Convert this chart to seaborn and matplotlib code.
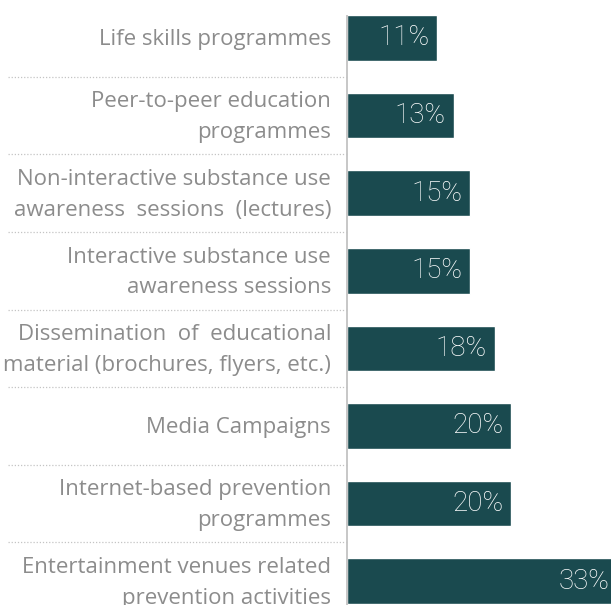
import matplotlib
matplotlib.use("Agg")
import matplotlib.pyplot as plt
import matplotlib.transforms as mtransforms
import pandas as pd
import seaborn as sns

categories = [
    "Life skills programmes",
    "Peer-to-peer education\nprogrammes",
    "Non-interactive substance use\nawareness  sessions  (lectures)",
    "Interactive substance use\nawareness sessions",
    "Dissemination  of  educational\nmaterial (brochures, flyers, etc.)",
    "Media Campaigns",
    "Internet-based prevention\nprogrammes",
    "Entertainment venues related\nprevention activities",
]
values = [11, 13, 15, 15, 18, 20, 20, 33]
value_labels = ["11%", "13%", "15%", "15%", "18%", "20%", "20%", "33%"]

BAR = "#1a4a4f"
GREY = "#8c8c8c"

sns.set_theme(style="white")
plt.rcParams["font.family"] = ["Open Sans", "DejaVu Sans"]

W, H = 611, 605
fig = plt.figure(figsize=(W / 100, H / 100), dpi=100)

# axes laid out in pixels: zero line at x=347, 8.2 px per percent,
# bar centres at y = 38 + 77.6*i
x0, ppu = 347, 8.2
step = 77.6
xmax = 36
top_px = 38 - step / 2
ax = fig.add_axes([x0 / W, 1 - (top_px + step * 8) / H, xmax * ppu / W, step * 8 / H])

df = pd.DataFrame({"cat": categories, "val": values})
sns.barplot(data=df, x="val", y="cat", color=BAR, width=0.59,
            saturation=1, ax=ax, orient="h")
ax.set_xlim(0, xmax)
ax.set_ylim(7.5, -0.5)
ax.set_xlabel("")
ax.set_ylabel("")
ax.set_xticks([])
ax.set_yticks([])
for s in ax.spines.values():
    s.set_visible(False)

# zero line from the top of the first bar down
ax.vlines(0, -0.295, 7.5, color="#bdbdbd", lw=1.2, clip_on=False)

# dotted separators on the label side
trans = mtransforms.blended_transform_factory(fig.transFigure, ax.transData)
for i in range(len(categories) - 1):
    ax.plot([8 / W, x0 / W], [i + 0.5, i + 0.5], transform=trans,
            color="#c4c4c4", lw=0.9, ls=(0, (1, 1.5)), clip_on=False)

label_trans = mtransforms.offset_copy(ax.transData, fig=fig, x=-16, y=-4, units="dots")
for i, cat in enumerate(categories):
    ax.text(0, i - 0.03, cat, transform=label_trans, ha="right", va="center",
            fontsize=16, color=GREY, linespacing=1.6)

val_trans = mtransforms.offset_copy(ax.transData, fig=fig, x=-8, y=0, units="dots")
for i, (v, lab) in enumerate(zip(values, value_labels)):
    ax.text(v, i, lab, transform=val_trans, ha="right", va="center",
            fontsize=20, color="white", fontweight="light",
            family=["Roboto", "DejaVu Sans"])

fig.savefig("out.png", dpi=100)
